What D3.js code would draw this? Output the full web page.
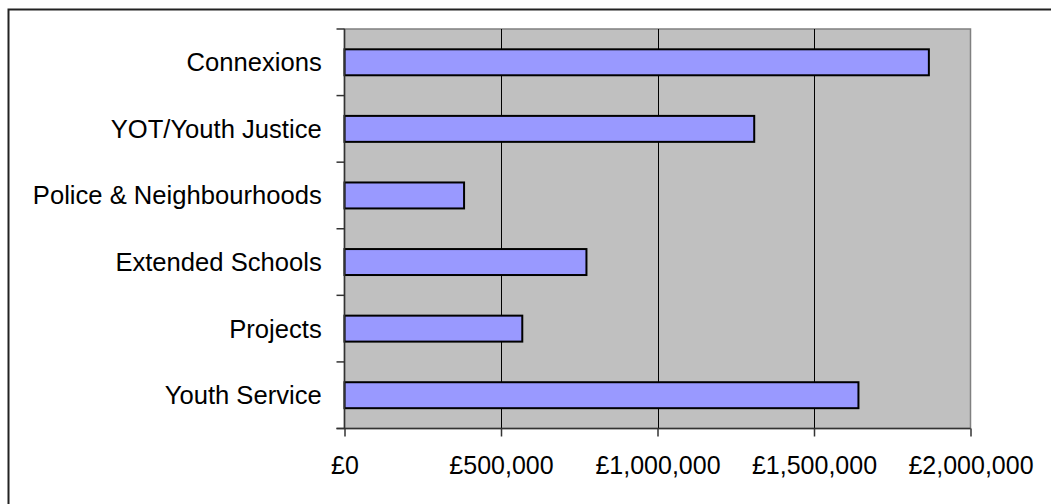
<!DOCTYPE html>
<html>
<head>
<meta charset="utf-8">
<script src="https://cdn.jsdelivr.net/npm/d3@7/dist/d3.min.js"></script>
<style>
  html, body { margin: 0; padding: 0; background: #fff; }
  svg { display: block; }
  text { font-family: "Liberation Sans", Arial, Helvetica, sans-serif; fill: #000; }
</style>
</head>
<body>
<svg id="chart" width="1051" height="504"></svg>
<script>
// Spending by service area (top to bottom as listed)
const categories = [
  "Connexions",
  "YOT/Youth Justice",
  "Police & Neighbourhoods",
  "Extended Schools",
  "Projects",
  "Youth Service"
];
const amounts = [1867000, 1309000, 382000, 773000, 568000, 1642000];
const tickValues = [0, 500000, 1000000, 1500000, 2000000];

const svg = d3.select("#chart");
const W = 1051, H = 504;
const plot = { left: 344.5, right: 970.5, top: 29, bottom: 428.5 };

// outer chart frame
svg.append("rect")
  .attr("x", 8.5).attr("y", 9.5)
  .attr("width", W + 10).attr("height", H + 10)
  .attr("fill", "#fff")
  .attr("stroke", "#222")
  .attr("stroke-width", 2);

const x = d3.scaleLinear()
  .domain([0, 2000000])
  .range([plot.left, plot.right]);

const y = d3.scaleBand()
  .domain(categories)
  .range([plot.top, plot.bottom])
  .paddingInner(0.61)
  .paddingOuter(0.305);

// plot area background
svg.append("rect")
  .attr("x", plot.left).attr("y", plot.top)
  .attr("width", plot.right - plot.left)
  .attr("height", plot.bottom - plot.top)
  .attr("fill", "#c0c0c0")
  .attr("stroke", "#808080")
  .attr("stroke-width", 1.5);

// vertical gridlines
svg.append("g")
  .selectAll("line")
  .data(tickValues.filter(v => v > 0 && v < 2000000))
  .join("line")
  .attr("x1", d => Math.round(x(d)) + 0.5)
  .attr("x2", d => Math.round(x(d)) + 0.5)
  .attr("y1", plot.top)
  .attr("y2", plot.bottom)
  .attr("stroke", "#000")
  .attr("stroke-width", 1);

// bars
svg.append("g")
  .selectAll("rect")
  .data(categories.map((c, i) => ({ c, v: amounts[i] })))
  .join("rect")
  .attr("x", x(0))
  .attr("y", d => y(d.c))
  .attr("width", d => x(d.v) - x(0))
  .attr("height", y.bandwidth())
  .attr("fill", "#9999ff")
  .attr("stroke", "#000")
  .attr("stroke-width", 2);

// category axis
const yAxisScale = d3.scalePoint()
  .domain(d3.range(categories.length + 1))
  .range([plot.top, plot.bottom]);

const yAxis = svg.append("g")
  .attr("transform", `translate(${plot.left},0)`);
yAxis.append("line")
  .attr("x1", 0).attr("x2", 0)
  .attr("y1", plot.top).attr("y2", plot.bottom)
  .attr("stroke", "#333").attr("stroke-width", 1.5);
yAxis.selectAll("line.tick")
  .data(yAxisScale.domain())
  .join("line")
  .attr("class", "tick")
  .attr("x1", -8).attr("x2", 0)
  .attr("y1", d => yAxisScale(d)).attr("y2", d => yAxisScale(d))
  .attr("stroke", "#333").attr("stroke-width", 1.5);
yAxis.selectAll("text")
  .data(categories)
  .join("text")
  .attr("x", -22.8)
  .attr("y", d => y(d) + y.bandwidth() / 2)
  .attr("dy", "0.35em")
  .attr("text-anchor", "end")
  .attr("font-size", 25.6)
  .text(d => d);

// value axis
const fmt = v => "£" + d3.format(",")(v);
const xAxis = svg.append("g")
  .attr("transform", `translate(0,${plot.bottom})`)
  .call(d3.axisBottom(x)
    .tickValues(tickValues)
    .tickFormat(fmt)
    .tickSize(8)
    .tickPadding(20));
xAxis.select(".domain")
  .attr("d", `M${plot.left - 8},0H${plot.right}`)
  .attr("stroke", "#333")
  .attr("stroke-width", 1.5);
xAxis.selectAll(".tick line")
  .attr("stroke", "#333")
  .attr("stroke-width", 1.5);
xAxis.selectAll(".tick text")
  .attr("font-size", 25)
  .attr("font-family", "Liberation Sans, Arial, sans-serif")
  .attr("fill", "#000");
</script>
</body>
</html>
